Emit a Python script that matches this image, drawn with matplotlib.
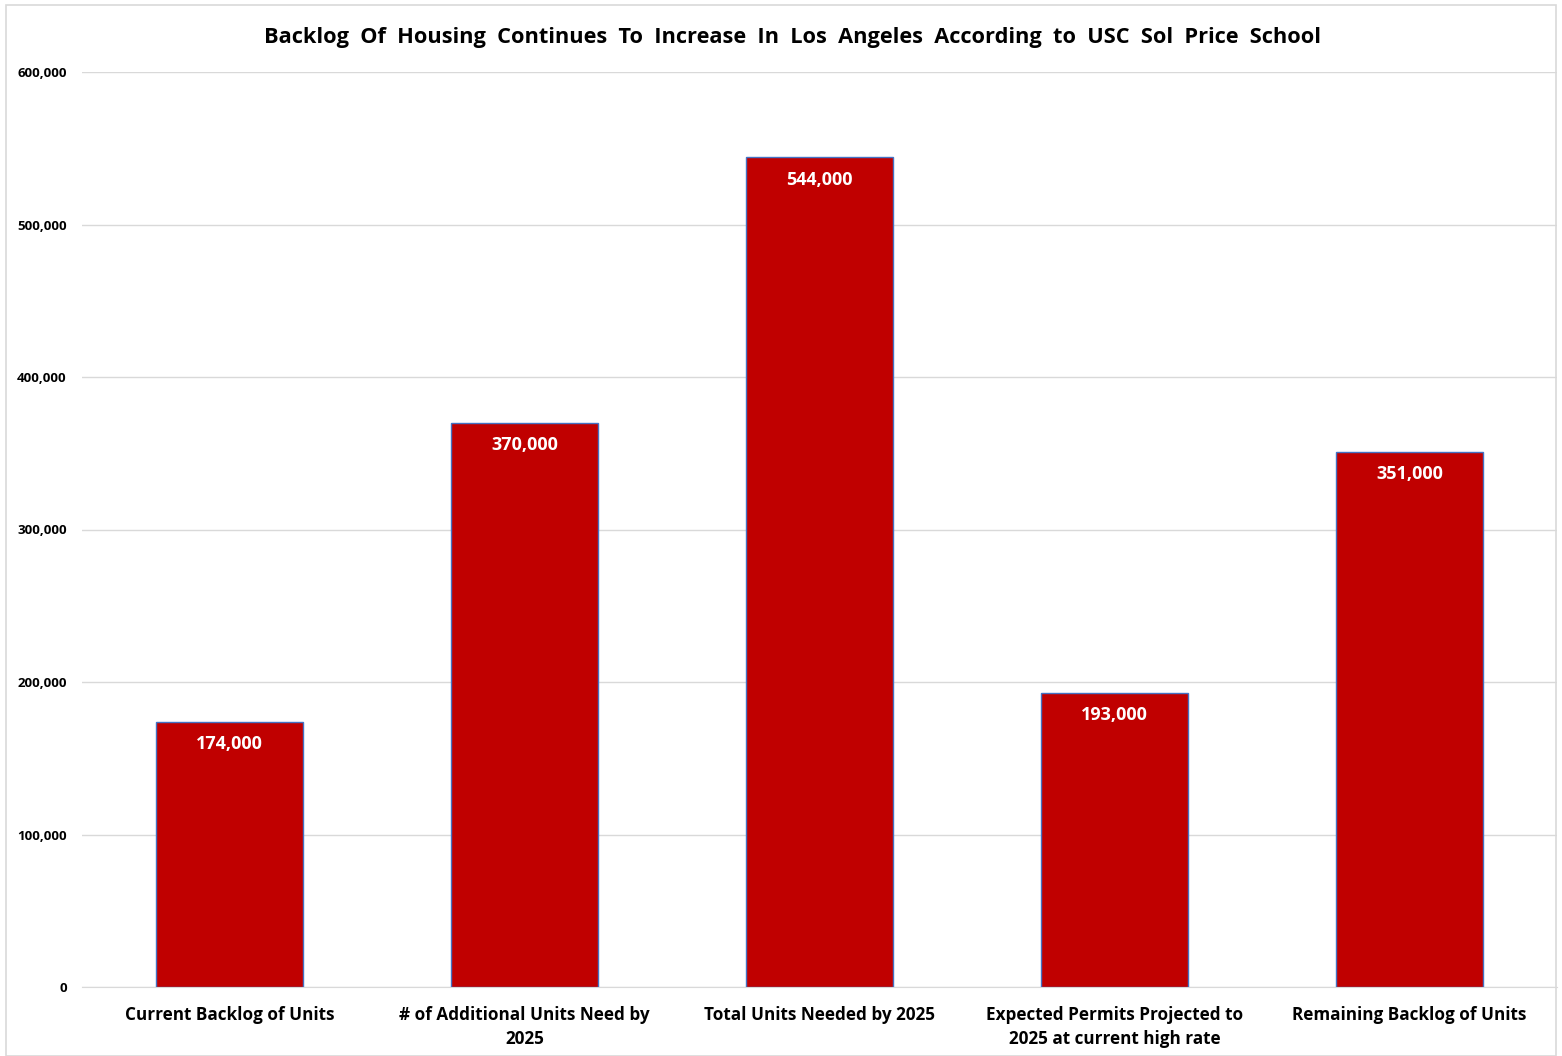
import matplotlib.pyplot as plt
from matplotlib.patches import Rectangle
from matplotlib.ticker import FuncFormatter

categories = [
    "Current Backlog of Units",
    "# of Additional Units Need by\n2025",
    "Total Units Needed by 2025",
    "Expected Permits Projected to\n2025 at current high rate",
    "Remaining Backlog of Units",
]
values = [174000, 370000, 544000, 193000, 351000]
title = "Backlog  Of  Housing  Continues  To  Increase  In  Los  Angeles  According  to  USC  Sol  Price  School"

plt.rcParams['font.family'] = ['Open Sans', 'DejaVu Sans']
plt.rcParams['font.weight'] = 'bold'

fig = plt.figure(figsize=(15.62, 10.56), dpi=100)
ax = fig.add_axes([82 / 1562, 1 - 987 / 1056, (1557 - 82) / 1562, (987 - 72) / 1056])

x = range(len(categories))
bars = ax.bar(x, values, width=0.5, color='#c00000', edgecolor='#4472c4', linewidth=1.0, zorder=3)

for xi, v in zip(x, values):
    ax.annotate(f"{v:,}", (xi, v), xytext=(0, -9.5), textcoords='offset points',
                ha='center', va='top', color='white', fontsize=13, fontweight='bold', zorder=4)

ax.set_xlim(-0.5, len(categories) - 0.5)
ax.set_ylim(0, 600000)
ax.set_yticks(range(0, 600001, 100000))
ax.yaxis.set_major_formatter(FuncFormatter(lambda v, p: f"{int(v):,}"))
ax.grid(axis='y', color='#d9d9d9', linewidth=1.0, zorder=0)
ax.set_xticks(list(x))
ax.set_xticklabels(categories, fontsize=12.3, fontweight='bold', linespacing=1.4)
for s in ['top', 'right', 'left']:
    ax.spines[s].set_visible(False)
ax.spines['bottom'].set_color('#d9d9d9')
ax.tick_params(axis='both', length=0)
ax.tick_params(axis='x', pad=14)
ax.tick_params(axis='y', pad=11, labelsize=9.5)

fig.text(792 / 1562, 1 - 38 / 1056, title, ha='center', va='center', fontsize=15.7, fontweight='bold')
fig.patches.append(Rectangle((6 / 1562, 0), 1550 / 1562, 1 - 5 / 1056, transform=fig.transFigure,
                             fill=False, edgecolor='#d9d9d9', linewidth=1.2))

fig.savefig('out.png', dpi=100)
